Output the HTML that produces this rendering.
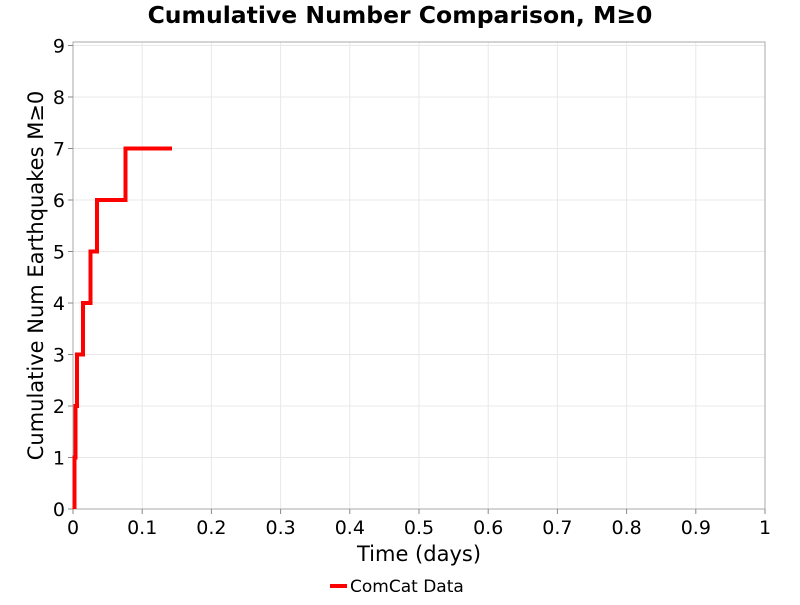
<!DOCTYPE html>
<html><head><meta charset="utf-8"><style>body{margin:0;background:#fff}</style></head><body>
<svg width="800" height="600" xmlns="http://www.w3.org/2000/svg" font-family="'DejaVu Sans','Liberation Sans',sans-serif">
<rect width="800" height="600" fill="#fff"/>
<text x="400" y="23" text-anchor="middle" font-size="23.5" font-weight="bold">Cumulative Number Comparison, M≥0</text>
<g stroke="#e8e8e8" stroke-width="1">
<line x1="142.2" y1="42" x2="142.2" y2="509"/><line x1="211.4" y1="42" x2="211.4" y2="509"/><line x1="280.6" y1="42" x2="280.6" y2="509"/><line x1="349.8" y1="42" x2="349.8" y2="509"/><line x1="419" y1="42" x2="419" y2="509"/><line x1="488.2" y1="42" x2="488.2" y2="509"/><line x1="557.4" y1="42" x2="557.4" y2="509"/><line x1="626.6" y1="42" x2="626.6" y2="509"/><line x1="695.8" y1="42" x2="695.8" y2="509"/>
<line x1="73" y1="457.5" x2="765" y2="457.5"/><line x1="73" y1="406" x2="765" y2="406"/><line x1="73" y1="354.5" x2="765" y2="354.5"/><line x1="73" y1="303" x2="765" y2="303"/><line x1="73" y1="251.5" x2="765" y2="251.5"/><line x1="73" y1="200" x2="765" y2="200"/><line x1="73" y1="148.5" x2="765" y2="148.5"/><line x1="73" y1="97" x2="765" y2="97"/><line x1="73" y1="45.5" x2="765" y2="45.5"/>
</g>
<rect x="73" y="42" width="692" height="467" fill="none" stroke="#aaa" stroke-width="1"/>
<g stroke="#888"><line x1="73" y1="509" x2="73" y2="514"/><line x1="142.2" y1="509" x2="142.2" y2="514"/><line x1="211.4" y1="509" x2="211.4" y2="514"/><line x1="280.6" y1="509" x2="280.6" y2="514"/><line x1="349.8" y1="509" x2="349.8" y2="514"/><line x1="419" y1="509" x2="419" y2="514"/><line x1="488.2" y1="509" x2="488.2" y2="514"/><line x1="557.4" y1="509" x2="557.4" y2="514"/><line x1="626.6" y1="509" x2="626.6" y2="514"/><line x1="695.8" y1="509" x2="695.8" y2="514"/><line x1="765" y1="509" x2="765" y2="514"/>
<line x1="68" y1="509" x2="73" y2="509"/><line x1="68" y1="457.5" x2="73" y2="457.5"/><line x1="68" y1="406" x2="73" y2="406"/><line x1="68" y1="354.5" x2="73" y2="354.5"/><line x1="68" y1="303" x2="73" y2="303"/><line x1="68" y1="251.5" x2="73" y2="251.5"/><line x1="68" y1="200" x2="73" y2="200"/><line x1="68" y1="148.5" x2="73" y2="148.5"/><line x1="68" y1="97" x2="73" y2="97"/><line x1="68" y1="45.5" x2="73" y2="45.5"/></g>
<g font-size="19" text-anchor="middle">
<text x="73" y="534">0</text><text x="142.2" y="534">0.1</text><text x="211.4" y="534">0.2</text><text x="280.6" y="534">0.3</text><text x="349.8" y="534">0.4</text><text x="419" y="534">0.5</text><text x="488.2" y="534">0.6</text><text x="557.4" y="534">0.7</text><text x="626.6" y="534">0.8</text><text x="695.8" y="534">0.9</text><text x="765" y="534">1</text>
</g>
<g font-size="19" text-anchor="end">
<text x="65" y="516">0</text><text x="65" y="464.5">1</text><text x="65" y="413">2</text><text x="65" y="361.5">3</text><text x="65" y="310">4</text><text x="65" y="258.5">5</text><text x="65" y="207">6</text><text x="65" y="155.5">7</text><text x="65" y="104">8</text><text x="65" y="52.5">9</text>
</g>
<text x="419" y="561" text-anchor="middle" font-size="21">Time (days)</text>
<text transform="translate(43,275.5) rotate(-90)" text-anchor="middle" font-size="21">Cumulative Num Earthquakes M≥0</text>
<polyline fill="none" stroke="#f00" stroke-width="4" points="74.5,509 74.5,457.5 75.5,457.5 75.5,406 77,406 77,354.5 83,354.5 83,303 90.5,303 90.5,251.5 97,251.5 97,200 125.5,200 125.5,148.5 172,148.5"/>
<line x1="330" y1="586" x2="347" y2="586" stroke="#f00" stroke-width="4"/>
<text x="350" y="592" font-size="17">ComCat Data</text>
</svg>
</body></html>
